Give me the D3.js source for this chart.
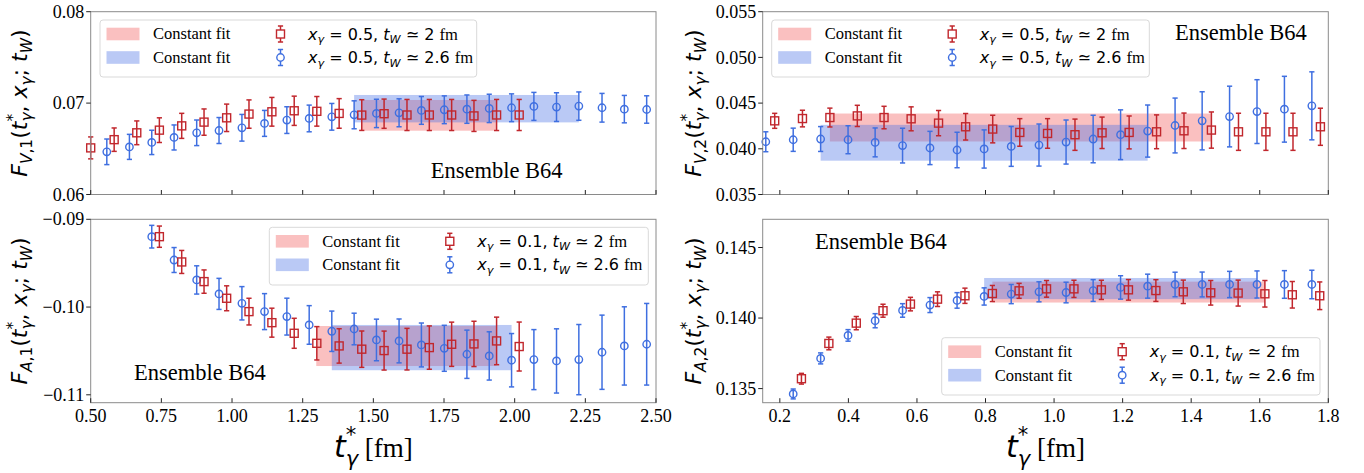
<!DOCTYPE html>
<html><head><meta charset="utf-8">
<script src="https://cdn.jsdelivr.net/npm/d3@7"></script>
<style>body{margin:0;background:#fff;} svg{display:block;} text{white-space:pre;}</style>
</head><body>
<svg id="c" width="1364" height="473"></svg>
<script>
// ---------------- DATA ----------------
// Panel F_{V,1}
const redX_V1 = [0.500,0.583,0.663,0.743,0.822,0.901,0.981,1.060,1.141,1.220,1.300,1.379,1.459,1.538,1.619,1.698,1.777,1.856,1.936,2.016];
const redY_V1 = [0.0651,0.0660,0.06675,0.06704,0.06751,0.06792,0.06839,0.0688,0.06905,0.06916,0.0691,0.06887,0.06869,0.06884,0.0687,0.0687,0.0687,0.0686,0.0687,0.0687];
const redE_V1 = [0.0012,0.00128,0.0013,0.00135,0.00137,0.00144,0.0015,0.00155,0.00157,0.0016,0.00162,0.00162,0.00168,0.0016,0.0017,0.0017,0.0017,0.0017,0.0017,0.0017];
const blueX_V1 = [0.557,0.637,0.716,0.795,0.875,0.954,1.035,1.115,1.194,1.273,1.353,1.432,1.511,1.591,1.670,1.751,1.831,1.910,1.989,2.068,2.148,2.227,2.309,2.388,2.467];
const blueY_V1 = [0.06467,0.06521,0.0657,0.06624,0.06675,0.0670,0.0673,0.06778,0.06814,0.06832,0.0685,0.06872,0.06887,0.06894,0.0692,0.06927,0.06934,0.06942,0.06949,0.06964,0.06956,0.06967,0.06949,0.06934,0.0693];
const blueE_V1 = [0.0014,0.00137,0.00133,0.00137,0.0014,0.00142,0.00146,0.00142,0.00146,0.00146,0.00146,0.00153,0.00155,0.00153,0.00152,0.00152,0.00155,0.00155,0.00152,0.00153,0.00157,0.00155,0.00157,0.0015,0.0015];
const fitRed_V1 = {x0:1.456, x1:1.937, c:0.06866, e:0.00168};
const fitBlue_V1 = {x0:1.432, x1:2.227, c:0.06939, e:0.0015};

// Panel F_{V,2}
const redX_V2 = [0.185,0.266,0.346,0.426,0.504,0.583,0.663,0.742,0.821,0.900,0.981,1.061,1.140,1.219,1.299,1.379,1.459,1.538,1.618,1.697,1.777];
const redY_V2 = [0.04306,0.04331,0.04342,0.0436,0.04342,0.04328,0.04281,0.04241,0.04216,0.04179,0.04168,0.04154,0.04175,0.04179,0.04186,0.04197,0.04205,0.04186,0.04186,0.04186,0.04241];
const redE_V2 = [0.00082,0.00091,0.00103,0.00116,0.00123,0.00131,0.00138,0.00145,0.00151,0.00151,0.00162,0.00171,0.00172,0.0018,0.00185,0.00194,0.00198,0.00203,0.00203,0.00203,0.00203];
const blueX_V2 = [0.159,0.239,0.319,0.399,0.478,0.558,0.638,0.717,0.796,0.875,0.956,1.035,1.114,1.194,1.273,1.353,1.432,1.512,1.592,1.672,1.752];
const blueY_V2 = [0.04077,0.04099,0.04107,0.04099,0.0407,0.04035,0.04009,0.03987,0.03998,0.04026,0.04041,0.04074,0.04107,0.04154,0.04194,0.04255,0.04306,0.04353,0.04407,0.04433,0.0447];
const blueE_V2 = [0.00109,0.00127,0.00136,0.00153,0.00158,0.0019,0.00182,0.00194,0.00209,0.00218,0.0023,0.00241,0.0026,0.00272,0.00285,0.003,0.00318,0.00332,0.00349,0.0036,0.00372];
const fitRed_V2 = {x0:0.346, x1:1.459, c:0.04233, e:0.00153};
const fitBlue_V2 = {x0:0.319, x1:1.273, c:0.04066, e:0.00196};

// Panel F_{A,1}
const redX_A1 = [0.743,0.822,0.901,0.981,1.060,1.141,1.220,1.300,1.379,1.459,1.538,1.619,1.698,1.777,1.856,1.936,2.016];
const redY_A1 = [-0.09198,-0.09486,-0.0971,-0.099,-0.10052,-0.10178,-0.10299,-0.10413,-0.10443,-0.1048,-0.10496,-0.1048,-0.10462,-0.10424,-0.1042,-0.10386,-0.1045];
const redE_A1 = [0.00121,0.00131,0.00133,0.00142,0.00152,0.00165,0.00171,0.0019,0.00196,0.00207,0.00222,0.00237,0.00247,0.00252,0.00258,0.00271,0.00279];
const blueX_A1 = [0.716,0.795,0.875,0.954,1.035,1.115,1.194,1.273,1.353,1.432,1.511,1.591,1.670,1.751,1.831,1.910,1.989,2.068,2.148,2.227,2.309,2.388,2.467];
const blueY_A1 = [-0.09198,-0.09464,-0.09691,-0.0985,-0.09957,-0.10052,-0.10109,-0.10204,-0.10276,-0.1025,-0.10375,-0.10386,-0.10432,-0.1047,-0.10538,-0.10557,-0.10606,-0.10599,-0.10614,-0.10599,-0.10515,-0.10443,-0.10424];
const blueE_A1 = [0.00129,0.00142,0.00161,0.00177,0.0019,0.00205,0.0021,0.0022,0.0023,0.0018,0.00237,0.0025,0.0025,0.00262,0.00275,0.00275,0.00304,0.00342,0.00366,0.004,0.00423,0.00446,0.00465];
const fitRed_A1 = {x0:1.298, x1:1.936, c:-0.10444, e:0.00228};
const fitBlue_A1 = {x0:1.353, x1:1.989, c:-0.10462, e:0.00258};

// Panel F_{A,2}
const redX_A2 = [0.263,0.343,0.423,0.501,0.581,0.660,0.740,0.820,0.898,0.978,1.058,1.138,1.217,1.297,1.377,1.457,1.537,1.615,1.695,1.775];
const redY_A2 = [0.1357,0.1382,0.13964,0.14052,0.14099,0.14134,0.14158,0.14174,0.14193,0.14207,0.14207,0.142,0.142,0.14195,0.14186,0.14179,0.14177,0.14172,0.14165,0.14158];
const redE_A2 = [0.00038,0.00045,0.00047,0.00046,0.00048,0.00052,0.00054,0.00057,0.00053,0.00059,0.00061,0.00068,0.00073,0.00077,0.00083,0.00087,0.00092,0.00094,0.00094,0.00098];
const blueX_A2 = [0.239,0.319,0.399,0.478,0.558,0.638,0.717,0.796,0.875,0.956,1.035,1.114,1.194,1.273,1.353,1.432,1.512,1.592,1.672,1.752];
const blueY_A2 = [0.13462,0.13714,0.13877,0.13981,0.14054,0.14092,0.14125,0.14153,0.1417,0.14186,0.14181,0.14195,0.14217,0.14226,0.14238,0.14238,0.14238,0.14238,0.14238,0.14238];
const blueE_A2 = [0.00035,0.00039,0.00041,0.0005,0.00048,0.00053,0.00055,0.00061,0.00068,0.00071,0.00073,0.00077,0.00083,0.00085,0.00087,0.00088,0.00093,0.00096,0.00098,0.00101];
const fitRed_A2 = {x0:0.820, x1:1.615, c:0.14184, e:0.00074};
const fitBlue_A2 = {x0:0.796, x1:1.592, c:0.14209, e:0.00075};

// ticks
const xTicksLeft = [0.50,0.75,1.00,1.25,1.50,1.75,2.00,2.25,2.50];
const xTicksRight = [0.2,0.4,0.6,0.8,1.0,1.2,1.4,1.6,1.8];
const yTicksV1 = [0.06,0.07,0.08];
const yTicksV2 = [0.035,0.040,0.045,0.050,0.055];
const yTicksA1 = [-0.11,-0.10,-0.09];
const yTicksA2 = [0.135,0.140,0.145];

const legendRed = ["0.5","2"], legendBlue = ["0.5","2.6"];
const legendRedA = ["0.1","2"], legendBlueA = ["0.1","2.6"];

// ---------------- DRAW ----------------
const svg = d3.select("#c");
const SERIF = "'Liberation Serif','Times New Roman',serif";
const SANS = "'DejaVu Sans',sans-serif";
const RED = "#c1272d", BLUE = "#3f6fe0";
const RED_FILL = "#f25a5a", BLUE_FILL = "#4a72e6", FILL_OP = 0.38;

function mathText(sel, segs, size, supShift, subShift) {
  const sp = supShift || 0.42, sb = subShift || 0.22;
  let cur = 0;
  segs.forEach(s => {
    const fs = s.size || ((s.sub || s.sup) ? size * 0.7 : size);
    const target = s.sub ? sb * size : (s.sup ? -sp * size : 0);
    const ts = sel.append("tspan").text(s.t)
      .attr("font-size", fs)
      .attr("font-family", s.serif ? SERIF : SANS)
      .attr("font-style", s.it ? "italic" : "normal");
    const dy = target - cur;
    if (dy !== 0) ts.attr("dy", dy);
    if (s.dx) ts.attr("dx", s.dx);
    cur = target;
  });
}

function ylabelSegs(sub1, sub2, size) {
  return [
    {t:"F", it:true}, {t:sub1, sub:true, it:true}, {t:","+sub2, sub:true},
    {t:"("}, {t:"t", it:true}, {t:"*", sup:true}, {t:"γ", sub:true, it:true, dx:-0.35*size},
    {t:", "}, {t:"x", it:true}, {t:"γ", sub:true, it:true}, {t:"; "},
    {t:"t", it:true}, {t:"W", sub:true, it:true}, {t:")"}
  ];
}

const panels = [
  {x0:90.7, x1:656, y0:11.7, y1:194.5, xd:[0.5,2.5], yd:[0.06,0.08], xt:xTicksLeft, yt:yTicksV1, xf:".2f", yf:".2f", xlab:false,
   red:[redX_V1,redY_V1,redE_V1], blue:[blueX_V1,blueY_V1,blueE_V1], fr:fitRed_V1, fb:fitBlue_V1,
   yl:["V","1"], ylx:27, ens:[430.7,178], leg:[100,20,376.7,57], lr:legendRed, lb:legendBlue},
  {x0:762.7, x1:1328.3, y0:11.7, y1:194.5, xd:[0.15,1.8], yd:[0.035,0.055], xt:xTicksRight, yt:yTicksV2, xf:".1f", yf:".3f", xlab:false,
   red:[redX_V2,redY_V2,redE_V2], blue:[blueX_V2,blueY_V2,blueE_V2], fr:fitRed_V2, fb:fitBlue_V2,
   yl:["V","2"], ylx:701, ens:[1175,40], leg:[771.7,20,377.6,57], lr:legendRed, lb:legendBlue},
  {x0:90.7, x1:656, y0:219.3, y1:402.7, xd:[0.5,2.5], yd:[-0.1109,-0.09], xt:xTicksLeft, yt:yTicksA1, xf:".2f", yf:".2f", xlab:true,
   red:[redX_A1,redY_A1,redE_A1], blue:[blueX_A1,blueY_A1,blueE_A1], fr:fitRed_A1, fb:fitBlue_A1,
   yl:["A","1"], ylx:27, ens:[134,380], leg:[269.3,227.3,379,57.7], lr:legendRedA, lb:legendBlueA},
  {x0:762.7, x1:1328.3, y0:219.3, y1:402.7, xd:[0.15,1.8], yd:[0.134,0.147], xt:xTicksRight, yt:yTicksA2, xf:".1f", yf:".3f", xlab:true,
   red:[redX_A2,redY_A2,redE_A2], blue:[blueX_A2,blueY_A2,blueE_A2], fr:fitRed_A2, fb:fitBlue_A2,
   yl:["A","2"], ylx:701, ens:[815,249], leg:[941.7,337.7,378.3,57.3], lr:legendRedA, lb:legendBlueA}
];

function drawSeries(g, x, y, arr, color, shape) {
  const [xs, ys, es] = arr;
  const pts = xs.map((v,i)=>({x:v, y:ys[i], e:es[i]}));
  const cap = 2.6;
  const gg = g.append("g").attr("stroke", color).attr("fill", "none");
  pts.forEach(p => {
    const px = x(p.x), yt = y(p.y + p.e), yb = y(p.y - p.e), py = y(p.y);
    gg.append("line").attr("x1",px).attr("x2",px).attr("y1",yt).attr("y2",yb).attr("stroke-width",1.5);
    gg.append("line").attr("x1",px-cap).attr("x2",px+cap).attr("y1",yt).attr("y2",yt).attr("stroke-width",1.5);
    gg.append("line").attr("x1",px-cap).attr("x2",px+cap).attr("y1",yb).attr("y2",yb).attr("stroke-width",1.5);
    if (shape === "square") {
      gg.append("rect").attr("x",px-4).attr("y",py-4).attr("width",8).attr("height",8).attr("fill","none").attr("stroke-width",1.4);
    } else {
      gg.append("circle").attr("cx",px).attr("cy",py).attr("r",3.7).attr("stroke-width",1.4);
    }
  });
}

function legendMarker(g, cx, cy, color, shape) {
  const gg = g.append("g").attr("stroke", color).attr("fill","none");
  gg.append("line").attr("x1",cx).attr("x2",cx).attr("y1",cy-8).attr("y2",cy+8).attr("stroke-width",1.5);
  gg.append("line").attr("x1",cx-2.6).attr("x2",cx+2.6).attr("y1",cy-8).attr("y2",cy-8).attr("stroke-width",1.5);
  gg.append("line").attr("x1",cx-2.6).attr("x2",cx+2.6).attr("y1",cy+8).attr("y2",cy+8).attr("stroke-width",1.5);
  if (shape === "square") gg.append("rect").attr("x",cx-4).attr("y",cy-4).attr("width",8).attr("height",8).attr("fill","white").attr("stroke-width",1.4);
  else gg.append("circle").attr("cx",cx).attr("cy",cy).attr("r",3.7).attr("fill","white").attr("stroke-width",1.4);
}

panels.forEach(P => {
  const g = svg.append("g");
  const x = d3.scaleLinear().domain(P.xd).range([P.x0, P.x1]);
  const y = d3.scaleLinear().domain(P.yd).range([P.y1, P.y0]);

  // fit bands
  g.append("rect").attr("x", x(P.fr.x0)).attr("width", x(P.fr.x1)-x(P.fr.x0))
    .attr("y", y(P.fr.c+P.fr.e)).attr("height", y(P.fr.c-P.fr.e)-y(P.fr.c+P.fr.e))
    .attr("fill", RED_FILL).attr("fill-opacity", FILL_OP);
  g.append("rect").attr("x", x(P.fb.x0)).attr("width", x(P.fb.x1)-x(P.fb.x0))
    .attr("y", y(P.fb.c+P.fb.e)).attr("height", y(P.fb.c-P.fb.e)-y(P.fb.c+P.fb.e))
    .attr("fill", BLUE_FILL).attr("fill-opacity", FILL_OP);

  drawSeries(g, x, y, P.blue, BLUE, "circle");
  drawSeries(g, x, y, P.red, RED, "square");

  // spines
  g.append("rect").attr("x",P.x0).attr("y",P.y0).attr("width",P.x1-P.x0).attr("height",P.y1-P.y0)
    .attr("fill","none").attr("stroke","#8a8a8a").attr("stroke-width",1);

  // x ticks (inward)
  const fx = d3.format(P.xf), fy = d3.format(P.yf);
  P.xt.forEach(t => {
    g.append("line").attr("x1",x(t)).attr("x2",x(t)).attr("y1",P.y1).attr("y2",P.y1-4.5).attr("stroke","#222").attr("stroke-width",1);
    if (P.xlab) g.append("text").attr("x",x(t)).attr("y",P.y1+19).attr("text-anchor","middle")
      .attr("font-family",SERIF).attr("font-size",18).text(fx(t));
  });
  // y ticks (outward)
  P.yt.forEach(t => {
    g.append("line").attr("x1",P.x0-4.5).attr("x2",P.x0).attr("y1",y(t)).attr("y2",y(t)).attr("stroke","#222").attr("stroke-width",1);
    g.append("text").attr("x",P.x0-6.5).attr("y",y(t)).attr("dy","0.34em").attr("text-anchor","end")
      .attr("font-family",SERIF).attr("font-size",18).text(fy(t));
  });

  // y label
  const cy = (P.y0+P.y1)/2;
  const yl = g.append("text").attr("transform",`translate(${P.ylx},${cy}) rotate(-90)`).attr("text-anchor","middle");
  mathText(yl, ylabelSegs(P.yl[0], P.yl[1], 22), 22);

  // x label
  if (P.xlab) {
    const xl = g.append("text").attr("x",(P.x0+P.x1)/2).attr("y",457).attr("text-anchor","middle");
    mathText(xl, [{t:"t", it:true}, {t:"*", sup:true}, {t:"γ", sub:true, it:true, dx:-0.35*30},
                  {t:" [fm]", serif:true, size:27}], 30, 0.5, 0.3);
  }

  // ensemble label
  g.append("text").attr("x",P.ens[0]).attr("y",P.ens[1]).attr("font-family",SERIF).attr("font-size",22.5).text("Ensemble B64");

  // legend
  const [bx,by,bw,bh] = P.leg;
  const lg = g.append("g");
  lg.append("rect").attr("x",bx).attr("y",by).attr("width",bw).attr("height",bh).attr("rx",3)
    .attr("fill","white").attr("fill-opacity",0.8).attr("stroke","#d9d9d9").attr("stroke-width",1);
  const rows = [by+14, by+37.5];
  const fills = [RED_FILL, BLUE_FILL];
  rows.forEach((ry,i) => {
    lg.append("rect").attr("x",bx+6.5).attr("y",ry-6.3).attr("width",33).attr("height",12.6)
      .attr("fill",fills[i]).attr("fill-opacity",FILL_OP);
    lg.append("text").attr("x",bx+53).attr("y",ry).attr("dy","0.33em").attr("font-family",SERIF).attr("font-size",16.5).text("Constant fit");
    legendMarker(lg, bx+180.5, ry, i===0?RED:BLUE, i===0?"square":"circle");
    const vals = i===0 ? P.lr : P.lb;
    const t = lg.append("text").attr("x",bx+208).attr("y",ry+5.5);
    mathText(t, [{t:"x", it:true}, {t:"γ", sub:true, it:true}, {t:" = "+vals[0]+", "},
                 {t:"t", it:true}, {t:"W", sub:true, it:true}, {t:" ≃ "+vals[1]+" "},
                 {t:"fm", serif:true, size:16.5}], 16);
  });
});
</script>
</body></html>
